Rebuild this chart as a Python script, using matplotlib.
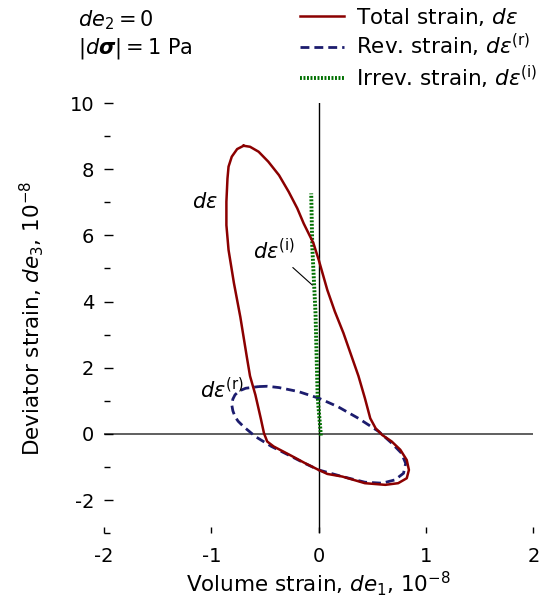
import matplotlib
matplotlib.use("Agg")
import matplotlib.pyplot as plt
import numpy as np

plt.rcParams['axes.unicode_minus'] = False

# total strain loop, units 1e-8
tot_x = [-0.70, -0.64, -0.56, -0.47, -0.37, -0.28, -0.20, -0.14, -0.05, 0.00, 0.08, 0.15,
         0.23, 0.30, 0.37, 0.43, 0.48, 0.53, 0.59, 0.68, 0.76, 0.82, 0.84, 0.82, 0.74,
         0.62, 0.43, 0.22, 0.08, 0.00, -0.13, -0.25, -0.42, -0.48, -0.51, -0.54, -0.59,
         -0.64, -0.67, -0.70, -0.73, -0.79, -0.84, -0.86, -0.86, -0.85, -0.84, -0.81,
         -0.76, -0.70]
tot_y = [8.71, 8.68, 8.53, 8.23, 7.82, 7.32, 6.82, 6.36, 5.77, 5.26, 4.35, 3.70,
         3.05, 2.40, 1.75, 1.08, 0.47, 0.17, -0.03, -0.23, -0.48, -0.79, -1.09, -1.34, -1.49,
         -1.54, -1.49, -1.29, -1.21, -1.09, -0.88, -0.67, -0.38, -0.23, 0.02, 0.47, 1.18,
         1.75, 2.33, 2.93, 3.53, 4.56, 5.56, 6.31, 7.02, 7.72, 8.08, 8.38,
         8.61, 8.71]

# reversible strain loop
rev_x = [-0.56, -0.48, -0.37, -0.19, 0.00, 0.18, 0.37, 0.56, 0.68, 0.77, 0.81, 0.79,
         0.71, 0.59, 0.43, 0.22, 0.00, -0.13, -0.25, -0.44, -0.59, -0.70, -0.75, -0.78,
         -0.80, -0.81, -0.80, -0.78, -0.74, -0.68, -0.56]
rev_y = [1.43, 1.44, 1.40, 1.28, 1.08, 0.82, 0.47, 0.07, -0.28, -0.58, -0.89, -1.19,
         -1.39, -1.49, -1.46, -1.29, -1.09, -0.89, -0.69, -0.38, -0.08, 0.22, 0.38, 0.52,
         0.70, 0.88, 1.05, 1.18, 1.30, 1.38, 1.43]

# irreversible strain
irr_x = [0.02, -0.01, -0.03, -0.06, -0.07]
irr_y = [-0.05, 1.12, 3.65, 5.65, 7.27]

fig = plt.figure(figsize=(5.46, 6.10), dpi=100)
ax = fig.add_axes([0.1905, 0.126, 0.7865, 0.705])

ax.axhline(0, color='#444444', lw=1.2, zorder=1)
ax.axvline(0, color='black', lw=1.0, zorder=1)

ax.plot(tot_x, tot_y, color='#8b0000', lw=1.8, label=r'Total strain, $d\varepsilon$', zorder=3)
ax.plot(rev_x, rev_y, color='#1c1c6e', lw=2.0, dashes=(3.2, 1.8),
        label=r'Rev. strain, $d\varepsilon^{\mathrm{(r)}}$', zorder=2)
ax.plot(irr_x, irr_y, color='#007000', lw=2.8, dashes=(0.5, 0.4),
        label=r'Irrev. strain, $d\varepsilon^{\mathrm{(i)}}$', zorder=2)

ax.set_xlim(-2, 2)
ax.set_ylim(-3, 10)
for s in ax.spines.values():
    s.set_visible(False)

ax.set_xticks([-2, -1, 0, 1, 2])
ax.set_yticks([-2, 0, 2, 4, 6, 8, 10])
ax.set_yticks([-3, -1, 1, 3, 5, 7, 9], minor=True)
ax.tick_params(axis='x', direction='in', length=4.5, width=1, pad=10, labelsize=14)
ax.tick_params(axis='y', direction='in', length=6.5, width=1, pad=7, labelsize=14)
ax.tick_params(axis='y', which='minor', direction='in', length=4, width=1)

ax.set_xlabel(r'Volume strain, $de_1$, $10^{-8}$', fontsize=15.5, labelpad=2)
ax.set_ylabel(r'Deviator strain, $de_3$, $10^{-8}$', fontsize=15.5, labelpad=17)

ax.text(-1.06, 7.0, r'$d\varepsilon$', fontsize=15, ha='center', va='center')
ax.text(-0.90, 1.33, r'$d\varepsilon^{\mathrm{(r)}}$', fontsize=15, ha='center', va='center')
ax.annotate(r'$d\varepsilon^{\mathrm{(i)}}$', xy=(-0.06, 4.5), xytext=(-0.42, 5.55),
            fontsize=15, ha='center', va='center',
            arrowprops=dict(arrowstyle='-', color='black', lw=0.8, shrinkA=2, shrinkB=0))

fig.text(0.143, 0.967, r'$de_2 = 0$', fontsize=15, va='center')
fig.text(0.143, 0.921, r'$|d\boldsymbol{\sigma}| = 1$ Pa', fontsize=15, va='center')

ax.legend(loc='upper right', bbox_to_anchor=(0.993, 0.998), bbox_transform=fig.transFigure,
          frameon=False, fontsize=15.5, handlelength=2.0, handletextpad=0.6,
          labelspacing=0.2, borderaxespad=0.0, borderpad=0.2)

fig.savefig('out.png', dpi=100)
